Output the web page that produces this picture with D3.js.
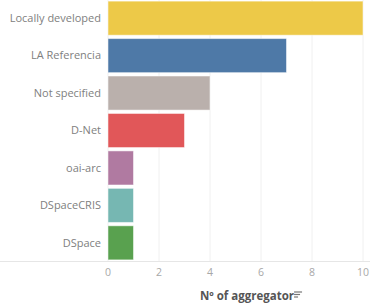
<!DOCTYPE html>
<html>
<head>
<meta charset="utf-8">
<script src="https://cdn.jsdelivr.net/npm/d3@7"></script>
<style>
  body { margin: 0; background: #fff; }
  text { font-family: "Open Sans", "Noto Sans", sans-serif; }
</style>
</head>
<body>
<svg id="chart" width="370" height="307"></svg>
<script>
  // Chart data
  var categories = ["Locally developed", "LA Referencia", "Not specified", "D-Net", "oai-arc", "DSpaceCRIS", "DSpace"];
  var counts = [10, 7, 4, 3, 1, 1, 1];
  var colors = ["#edc948", "#4e79a7", "#bab0ac", "#e15759", "#b07aa1", "#76b7b2", "#59a14f"];
  var ticks = [0, 2, 4, 6, 8, 10];

  var m = { left: 107, right: 7, top: 0, bottom: 46 };
  var W = 370, H = 307;

  var svg = d3.select("#chart");

  var x = d3.scaleLinear().domain([0, 10]).range([m.left + 1, W - m.right]);
  var y = d3.scaleBand().domain(categories).range([m.top, H - m.bottom]).paddingInner(0.09).paddingOuter(0.03);

  // vertical grid lines
  svg.append("g").selectAll("line")
    .data(ticks)
    .enter().append("line")
    .attr("x1", function(d) { return x(d); })
    .attr("x2", function(d) { return x(d); })
    .attr("y1", 0)
    .attr("y2", H - m.bottom)
    .attr("stroke", "#f0f0f0")
    .attr("stroke-width", 1);

  // bottom axis line
  svg.append("line")
    .attr("x1", 0).attr("x2", W)
    .attr("y1", H - m.bottom + 0.5).attr("y2", H - m.bottom + 0.5)
    .attr("stroke", "#e6e6e6");

  // bars
  svg.append("g").selectAll("rect")
    .data(categories)
    .enter().append("rect")
    .attr("x", x(0))
    .attr("y", function(d) { return y(d); })
    .attr("width", function(d, i) { return x(counts[i]) - x(0); })
    .attr("height", y.bandwidth())
    .attr("fill", function(d, i) { return colors[i]; })
    .attr("stroke", "#ffffff")
    .attr("stroke-opacity", 0.5)
    .attr("stroke-width", 1);

  // category labels
  svg.append("g").selectAll("text")
    .data(categories)
    .enter().append("text")
    .attr("x", m.left - 6)
    .attr("y", function(d) { return y(d) + y.bandwidth() / 2; })
    .attr("dy", "0.35em")
    .attr("text-anchor", "end")
    .attr("font-size", 11)
    .attr("fill", "#808080")
    .text(function(d) { return d; });

  // x tick labels
  svg.append("g").selectAll("text")
    .data(ticks)
    .enter().append("text")
    .attr("x", function(d) { return x(d); })
    .attr("y", H - m.bottom + 15)
    .attr("text-anchor", "middle")
    .attr("font-size", 10.5)
    .attr("fill", "#a8a8a8")
    .text(function(d) { return d; });

  // axis title
  var title = svg.append("text")
    .attr("x", 247)
    .attr("y", 300)
    .attr("text-anchor", "middle")
    .attr("font-size", 11.5)
    .attr("font-weight", "bold")
    .attr("fill", "#555")
    .text("Nº of aggregator");

  // small sort icon next to title
  var tb = title.node().getBBox();
  var ix = tb.x + tb.width;
  [[0, 8], [1, 6], [2, 4]].forEach(function(p) {
    svg.append("line")
      .attr("x1", ix).attr("x2", ix + p[1])
      .attr("y1", 292 + p[0] * 2.5).attr("y2", 292 + p[0] * 2.5)
      .attr("stroke", "#777").attr("stroke-width", 1.2);
  });
</script>
</body>
</html>
